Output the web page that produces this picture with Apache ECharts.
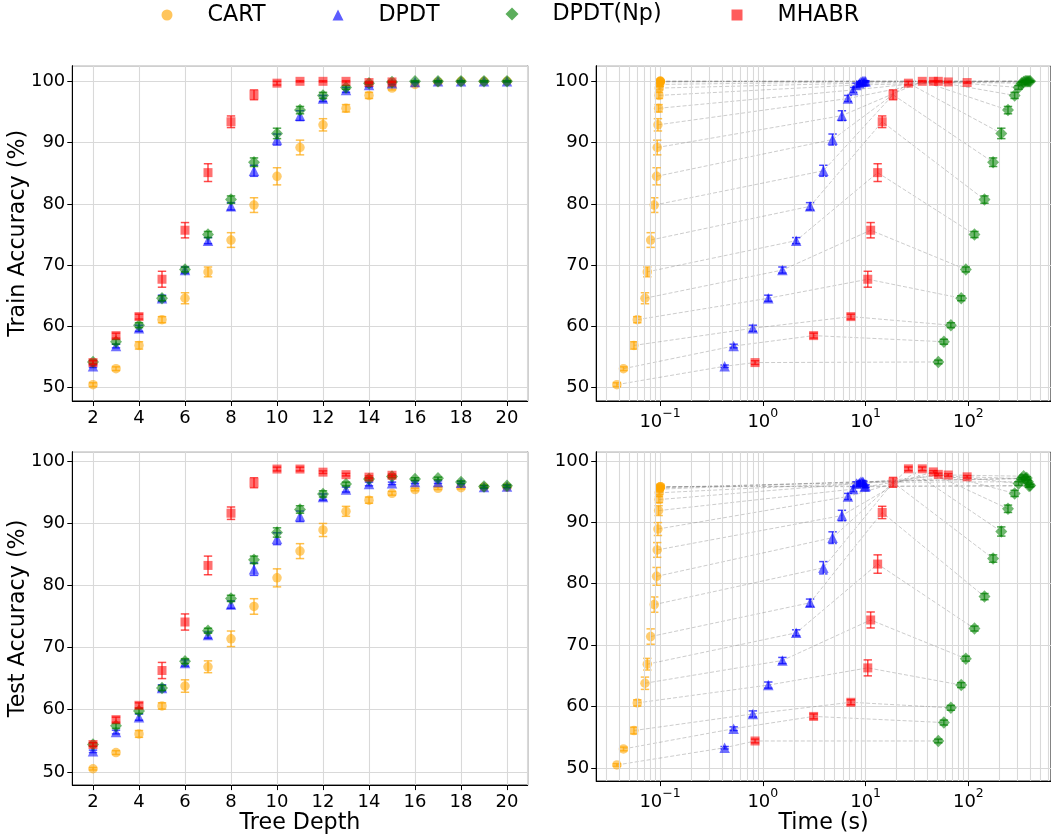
<!DOCTYPE html>
<html>
<head>
<meta charset="utf-8">
<script src="https://cdn.jsdelivr.net/npm/echarts@6/dist/echarts.min.js"></script>
<style>
html, body { margin: 0; padding: 0; background: #fff; }
#chart { width: 1051px; height: 835px; }
</style>
</head>
<body>
<div id="chart"></div>
<script>
// Tree depths evaluated
const depths = [2, 3, 4, 5, 6, 7, 8, 9, 10, 11, 12, 13, 14, 15, 16, 17, 18, 19, 20];
const mhabrDepths = [2, 3, 4, 5, 6, 7, 8, 9, 10, 11, 12, 13, 14, 15];

// CART
const cartTrain    = [50.5, 53.1, 56.9, 61.1, 64.6, 68.9, 74.1, 79.8, 84.5, 89.2, 92.9, 95.6, 97.7, 98.9, 99.5, 99.9, 100, 100, 100];
const cartTrainErr = [0.3, 0.3, 0.6, 0.5, 0.9, 0.8, 1.2, 1.2, 1.4, 1.2, 1.0, 0.6, 0.5, 0.3, 0.3, 0.2, 0.1, 0.1, 0.1];
const cartTest     = [50.5, 53.1, 56.1, 60.6, 63.8, 66.9, 71.4, 76.6, 81.2, 85.5, 88.9, 91.9, 93.7, 94.8, 95.4, 95.6, 95.7, 95.8, 95.8];
const cartTestErr  = [0.2, 0.3, 0.55, 0.5, 1.0, 0.95, 1.25, 1.25, 1.45, 1.2, 1.05, 0.8, 0.5, 0.3, 0.2, 0.2, 0.2, 0.2, 0.2];
const cartTime     = [0.038, 0.044, 0.0557, 0.060, 0.0713, 0.0751, 0.081, 0.0877, 0.0925, 0.0938, 0.0953, 0.0968, 0.0975, 0.098, 0.099, 0.0995, 0.1, 0.1005, 0.101];

// DPDT
const dpdtTrain    = [53.5, 56.8, 59.7, 64.6, 69.2, 74.0, 79.6, 85.4, 90.5, 94.4, 97.2, 98.6, 99.4, 99.7, 99.9, 100, 100, 100, 100];
const dpdtTrainErr = [0.2, 0.3, 0.5, 0.5, 0.5, 0.5, 0.6, 0.9, 0.9, 0.8, 0.5, 0.4, 0.3, 0.2, 0.1, 0.1, 0.1, 0.1, 0.1];
const dpdtTest     = [53.3, 56.4, 58.8, 63.5, 67.5, 72.0, 76.9, 82.6, 87.5, 91.1, 94.2, 95.4, 96.3, 96.4, 96.6, 96.6, 96.5, 95.8, 95.9];
const dpdtTestErr  = [0.2, 0.3, 0.5, 0.5, 0.5, 0.5, 0.6, 1.0, 0.95, 0.85, 0.5, 0.4, 0.3, 0.2, 0.2, 0.2, 0.2, 0.2, 0.2];
const dpdtTime     = [0.425, 0.52, 0.80, 1.13, 1.55, 2.11, 2.88, 3.88, 4.77, 5.88, 6.73, 7.57, 8.16, 8.7, 9.0, 9.3, 9.5, 9.8, 10.0];

// DPDT(Np)
const npTrain      = [54.2, 57.5, 60.2, 64.6, 69.3, 75.0, 80.7, 86.8, 91.5, 95.3, 97.7, 99.0, 99.7, 99.9, 100, 100, 100, 100, 100];
const npTrainErr   = [0.3, 0.4, 0.4, 0.4, 0.4, 0.5, 0.6, 0.7, 0.85, 0.6, 0.5, 0.3, 0.2, 0.1, 0.1, 0.1, 0.1, 0.1, 0.1];
const npTest       = [54.4, 57.4, 59.8, 63.5, 67.8, 72.7, 77.9, 84.1, 88.5, 92.2, 94.7, 96.3, 97.1, 97.5, 97.1, 97.2, 96.6, 95.9, 96.0];
const npTestErr    = [0.3, 0.4, 0.4, 0.4, 0.4, 0.4, 0.5, 0.6, 0.75, 0.6, 0.5, 0.3, 0.2, 0.2, 0.2, 0.2, 0.2, 0.2, 0.2];
const npTime       = [51, 57.8, 67.6, 85.2, 94.5, 114.6, 143.5, 174, 209, 243, 282, 308, 330, 345, 358, 370, 380, 390, 400];

// MHABR (depths 2-15)
const mhabrTrain    = [54.1, 58.5, 61.6, 67.7, 75.7, 85.1, 93.4, 97.8, 99.7, 100, 100, 100, 99.8, 99.9];
const mhabrTrainErr = [0.3, 0.4, 0.4, 1.3, 1.25, 1.45, 0.95, 0.8, 0.3, 0.1, 0.1, 0.1, 0.1, 0.1];
const mhabrTest     = [54.4, 58.4, 60.7, 66.3, 74.1, 83.2, 91.6, 96.5, 98.7, 98.7, 98.2, 97.8, 97.4, 97.7];
const mhabrTestErr  = [0.3, 0.4, 0.4, 1.3, 1.3, 1.5, 1.0, 0.8, 0.3, 0.3, 0.2, 0.2, 0.2, 0.2];
const mhabrTime     = [0.84, 3.12, 7.19, 10.5, 11.2, 13.1, 14.5, 18.5, 26.1, 35.6, 45.6, 51, 97.3, 63.7];

const FONT = 'DejaVu Sans';
const ALPHA = 0.7;

// Drawing order: CART, DPDT, DPDT(Np), MHABR (last on top)
const methods = [
  { name: 'CART',     rgb: '255,165,0', symbol: 'circle',   size: 9.5,      legendSize: 11, depth: depths,      train: cartTrain,  trainErr: cartTrainErr,  test: cartTest,  testErr: cartTestErr,  time: cartTime },
  { name: 'DPDT',     rgb: '0,0,255',   symbol: 'triangle', size: 10.5,     legendSize: 11, depth: depths,      train: dpdtTrain,  trainErr: dpdtTrainErr,  test: dpdtTest,  testErr: dpdtTestErr,  time: dpdtTime },
  { name: 'DPDT(Np)', rgb: '0,128,0',   symbol: 'diamond',  size: [12, 12.5], legendSize: 13, depth: depths,    train: npTrain,    trainErr: npTrainErr,    test: npTest,    testErr: npTestErr,    time: npTime },
  { name: 'MHABR',    rgb: '255,0,0',   symbol: 'rect',     size: 9,        legendSize: 11, depth: mhabrDepths, train: mhabrTrain, trainErr: mhabrTrainErr, test: mhabrTest, testErr: mhabrTestErr, time: mhabrTime }
];
const legendCenters = [167, 338, 512, 737];

// Panel frames (px)
const panels = [
  { left: 72.3,  top: 65.7,  width: 455.4, height: 335.3 },
  { left: 596.2, top: 65.7,  width: 456.2, height: 335.3 },
  { left: 72.3,  top: 451.7, width: 455.4, height: 335.3 },
  { left: 596.2, top: 451.7, width: 456.2, height: 335.3 }
];

const GRID_COLOR = '#d9d9d9';

function errRenderer(color) {
  return function (params, api) {
    const x = api.value(0), lo = api.value(1), hi = api.value(2);
    const a = api.coord([x, lo]);
    const b = api.coord([x, hi]);
    const w = 4.2;
    const style = { stroke: color, lineWidth: 1.5, fill: null };
    return {
      type: 'group',
      children: [
        { type: 'line', shape: { x1: a[0], y1: a[1], x2: b[0], y2: b[1] }, style: style },
        { type: 'line', shape: { x1: a[0] - w, y1: a[1], x2: a[0] + w, y2: a[1] }, style: style },
        { type: 'line', shape: { x1: b[0] - w, y1: b[1], x2: b[0] + w, y2: b[1] }, style: style }
      ]
    };
  };
}

function logLabel(v) {
  const e = Math.round(Math.log10(v));
  const s = String(e).replace('-', '\u2212');
  return '{b|10}{s|' + s + '}';
}

const axisLabelBase = { color: '#000', fontFamily: FONT, fontSize: 18, showMinLabel: false, showMaxLabel: false };

const xAxes = panels.map(function (p, i) {
  const isLog = (i % 2 === 1);
  const base = {
    gridIndex: i,
    axisLine: { show: true, lineStyle: { color: '#000', width: 1 } },
    axisTick: { show: true, length: 5, lineStyle: { color: '#000', width: 1 } },
    splitLine: { show: true, lineStyle: { color: GRID_COLOR, width: 1.1 } },
    nameLocation: 'middle',
    nameTextStyle: { color: '#000', fontFamily: FONT, fontSize: 22.2 }
  };
  if (isLog) {
    return Object.assign(base, {
      type: 'log', logBase: 10, min: 0.0239, max: 637,
      name: i === 3 ? 'Time (s)' : '', nameGap: 24,
      axisLabel: Object.assign({}, axisLabelBase, {
        margin: 6,
        formatter: logLabel,
        rich: {
          b: { fontFamily: FONT, fontSize: 18, color: '#000', lineHeight: 24, verticalAlign: 'bottom' },
          s: { fontFamily: FONT, fontSize: 12.5, color: '#000', lineHeight: 14, verticalAlign: 'top' }
        }
      })
    });
  }
  return Object.assign(base, {
    type: 'value', min: 1.1, max: 20.9, splitNumber: 10,
    name: i === 2 ? 'Tree Depth' : '', nameGap: 26,
    axisLabel: Object.assign({}, axisLabelBase, { margin: 8 })
  });
});

const yAxes = panels.map(function (p, i) {
  const top = i < 2;
  return {
    gridIndex: i, type: 'value',
    min: top ? 47.83 : 47.87, max: top ? 102.55 : 101.49, splitNumber: 5,
    axisLine: { show: true, lineStyle: { color: '#000', width: 1 } },
    axisTick: { show: true, length: 5, lineStyle: { color: '#000', width: 1 } },
    splitLine: { show: true, lineStyle: { color: GRID_COLOR, width: 1.1 } },
    axisLabel: Object.assign({}, axisLabelBase, { margin: 7 }),
    name: i === 0 ? 'Train Accuracy (%)' : (i === 2 ? 'Test Accuracy (%)' : ''),
    nameLocation: 'middle', nameGap: 43, nameMoveOverlap: false,
    nameTextStyle: { color: '#000', fontFamily: FONT, fontSize: 22.2 }
  };
});

const series = [];

// Minor gridlines on the log-scaled time axes
const minorLogTicks = [];
[0.01, 0.1, 1, 10, 100].forEach(function (dec) {
  for (let k = 2; k <= 9; k++) {
    const v = +(dec * k).toPrecision(3);
    if (v > 0.0239 && v < 637) minorLogTicks.push(v);
  }
});
[1, 3].forEach(function (gi) {
  series.push({
    type: 'line', xAxisIndex: gi, yAxisIndex: gi, data: [], silent: true, z: 0,
    markLine: {
      silent: true, symbol: 'none', animation: false,
      label: { show: false },
      lineStyle: { color: GRID_COLOR, width: 1.1, type: 'solid' },
      data: minorLogTicks.map(function (v) { return { xAxis: v }; })
    }
  });
});

// Dashed connectors joining the same depth across methods on the time panels
const connectOrder = [0, 1, 3, 2]; // CART -> DPDT -> MHABR -> DPDT(Np)
[1, 3].forEach(function (gi) {
  const key = gi === 1 ? 'train' : 'test';
  depths.forEach(function (d) {
    const pts = [];
    connectOrder.forEach(function (mi) {
      const m = methods[mi];
      const idx = m.depth.indexOf(d);
      if (idx >= 0) pts.push([m.time[idx], m[key][idx]]);
    });
    series.push({
      type: 'line', xAxisIndex: gi, yAxisIndex: gi, data: pts, silent: true, z: 1,
      showSymbol: false, symbol: 'none',
      lineStyle: { color: 'rgba(128,128,128,0.45)', width: 0.9, type: [4, 2] }
    });
  });
});

// Error bars and markers
[0, 1, 2, 3].forEach(function (gi) {
  const key = gi < 2 ? 'train' : 'test';
  const ekey = key + 'Err';
  const useTime = (gi % 2 === 1);
  methods.forEach(function (m, mi) {
    const color = 'rgba(' + m.rgb + ',' + ALPHA + ')';
    const xs = useTime ? m.time : m.depth;
    series.push({
      name: m.name + ' err', type: 'custom', xAxisIndex: gi, yAxisIndex: gi, z: 2 + mi * 2,
      silent: true,
      renderItem: errRenderer(color),
      encode: { x: 0, y: [1, 2] },
      data: m[key].map(function (v, i) { return [xs[i], v - m[ekey][i], v + m[ekey][i]]; })
    });
    series.push({
      name: m.name, type: 'scatter', xAxisIndex: gi, yAxisIndex: gi, z: 3 + mi * 2,
      symbol: m.symbol, symbolSize: m.size,
      itemStyle: { color: color },
      data: m[key].map(function (v, i) { return [xs[i], v]; })
    });
  });
});

const legends = methods.map(function (m, i) {
  return {
    left: legendCenters[i] - m.legendSize / 2, top: 4 + (11 - m.legendSize) / 2, padding: 0,
    itemWidth: m.legendSize, itemHeight: m.legendSize, selectedMode: false,
    textStyle: { fontFamily: FONT, fontSize: 22.2, color: '#000', padding: [0, 0, 0, 30 - (m.legendSize - 11) / 2] },
    data: [{ name: m.name, icon: m.symbol, itemStyle: { color: 'rgba(' + m.rgb + ',0.8)' } }]
  };
});

const chart = echarts.init(document.getElementById('chart'), null, { renderer: 'canvas' });
chart.setOption({
  animation: false,
  backgroundColor: '#fff',
  textStyle: { fontFamily: FONT },
  legend: legends,
  grid: panels.map(function (p) {
    return { left: p.left, top: p.top, width: p.width, height: p.height, show: true, borderColor: '#000', borderWidth: 1, backgroundColor: 'transparent', containLabel: false };
  }),
  xAxis: xAxes,
  yAxis: yAxes,
  series: series
});
</script>
</body>
</html>
